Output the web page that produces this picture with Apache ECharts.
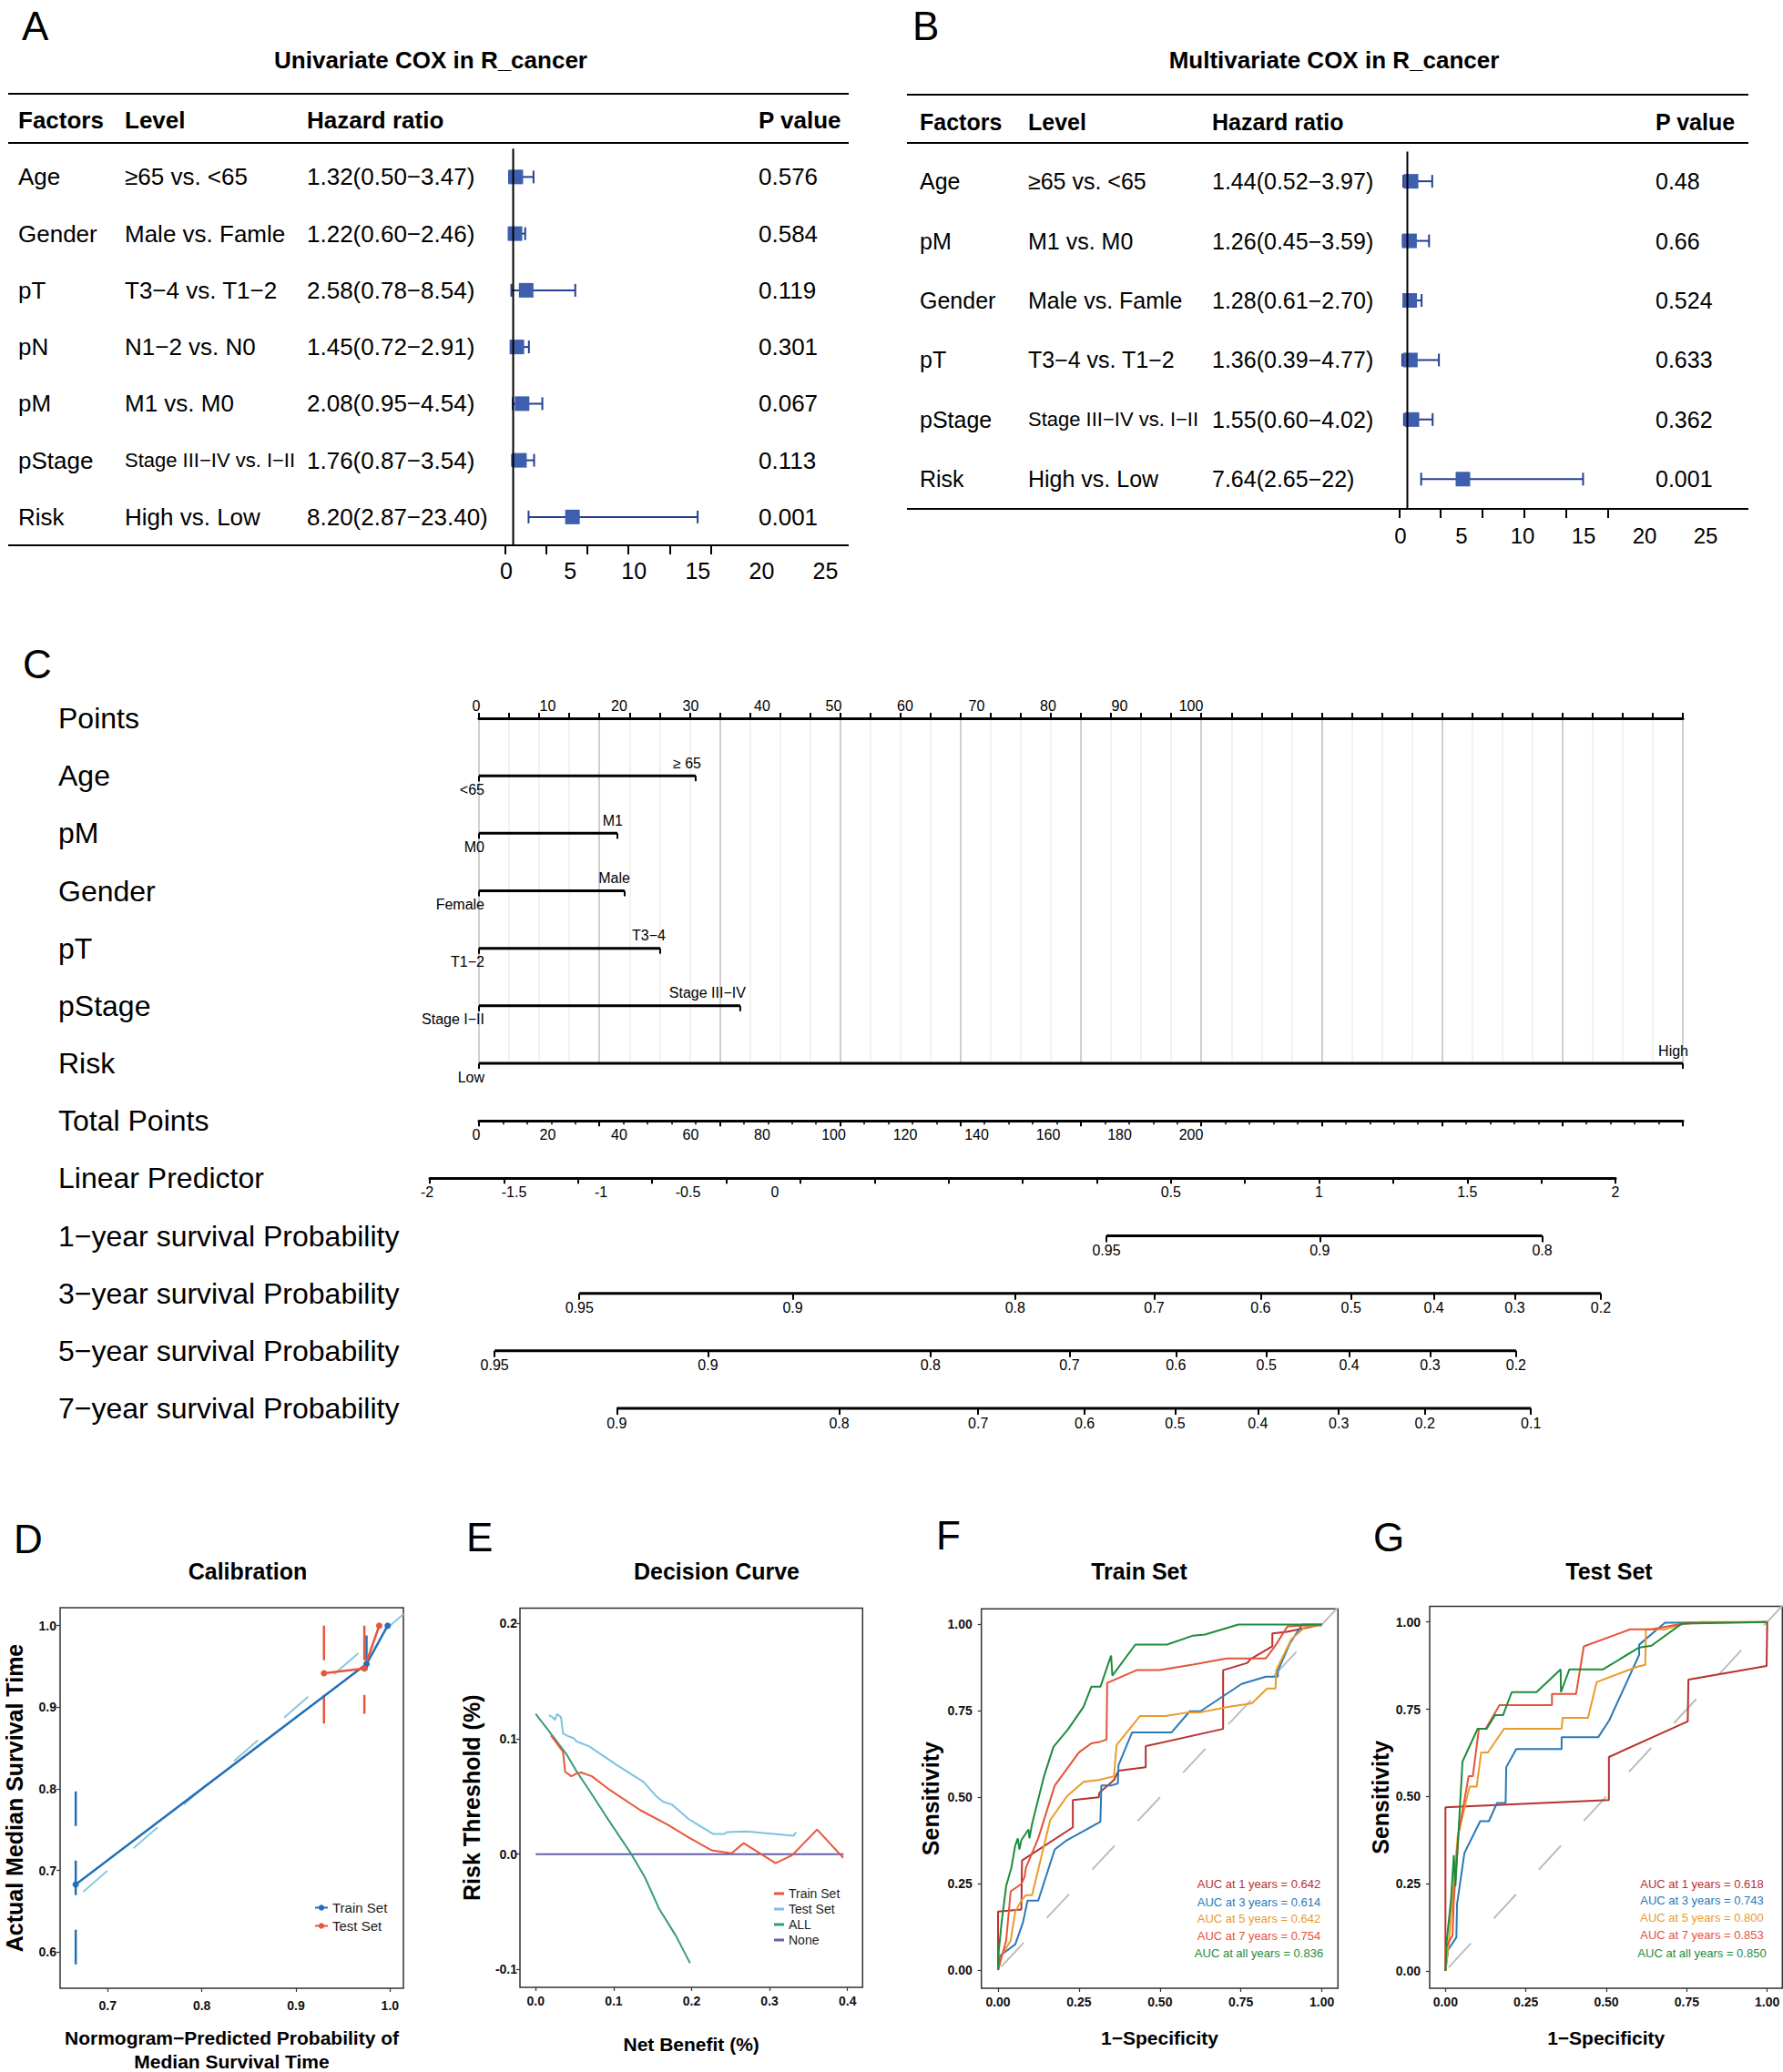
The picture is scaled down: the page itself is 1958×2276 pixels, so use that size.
<!DOCTYPE html>
<html><head><meta charset="utf-8">
<script src="https://cdn.jsdelivr.net/npm/echarts@6/dist/echarts.min.js"></script>
<style>html,body{margin:0;padding:0;background:#fff}#c{width:1958px;height:2276px}</style>
</head><body><div id="c"></div>
<script>
// ================= DATA =================
// Panel A: univariate Cox
const uniFactors = ['Age','Gender','pT','pN','pM','pStage','Risk'];
const uniLevels = ['≥65 vs. <65','Male vs. Famle','T3−4 vs. T1−2','N1−2 vs. N0','M1 vs. M0','Stage III−IV vs. I−II','High vs. Low'];
const uniHR = [1.32,1.22,2.58,1.45,2.08,1.76,8.20];
const uniLow = [0.50,0.60,0.78,0.72,0.95,0.87,2.87];
const uniHigh = [3.47,2.46,8.54,2.91,4.54,3.54,23.40];
const uniHRText = ['1.32(0.50−3.47)','1.22(0.60−2.46)','2.58(0.78−8.54)','1.45(0.72−2.91)','2.08(0.95−4.54)','1.76(0.87−3.54)','8.20(2.87−23.40)'];
const uniP = ['0.576','0.584','0.119','0.301','0.067','0.113','0.001'];
// Panel B: multivariate Cox
const mulFactors = ['Age','pM','Gender','pT','pStage','Risk'];
const mulLevels = ['≥65 vs. <65','M1 vs. M0','Male vs. Famle','T3−4 vs. T1−2','Stage III−IV vs. I−II','High vs. Low'];
const mulHR = [1.44,1.26,1.28,1.36,1.55,7.64];
const mulLow = [0.52,0.45,0.61,0.39,0.60,2.65];
const mulHigh = [3.97,3.59,2.70,4.77,4.02,22];
const mulHRText = ['1.44(0.52−3.97)','1.26(0.45−3.59)','1.28(0.61−2.70)','1.36(0.39−4.77)','1.55(0.60−4.02)','7.64(2.65−22)'];
const mulP = ['0.48','0.66','0.524','0.633','0.362','0.001'];
const forestHeaders = ['Factors','Level','Hazard ratio','P value'];
// Panel C: nomogram
const nomoRowNames = ['Points','Age','pM','Gender','pT','pStage','Risk','Total Points','Linear Predictor',
  '1−year survival Probability','3−year survival Probability','5−year survival Probability','7−year survival Probability'];
const nomoVars = ['Age','pM','Gender','pT','pStage','Risk'];
const nomoLowLabels = ['<65','M0','Female','T1−2','Stage I−II','Low'];
const nomoHighLabels = ['≥ 65','M1','Male','T3−4','Stage III−IV','High'];
const nomoPoints = [18.0,11.5,12.1,15.05,21.7,100];
const survYears = ['1','3','5','7'];
const survBaseline = [0.96207,0.79546,0.73745,0.66076];
const survTicks = [
  [0.95,0.9,0.8],
  [0.95,0.9,0.8,0.7,0.6,0.5,0.4,0.3,0.2],
  [0.95,0.9,0.8,0.7,0.6,0.5,0.4,0.3,0.2],
  [0.9,0.8,0.7,0.6,0.5,0.4,0.3,0.2,0.1]];
// Panel D: calibration
const calTrain = [[0.666,0.683],[0.975,0.953],[0.9975,1.0]];
const calTest = [[0.9298,0.9416],[0.9727,0.9476],[0.9885,1.0]];
const calTrainErr = [[[0.666,0.797],[0.666,0.575]],[[0.975,0.988],[0.975,0.916]]];
const calTestErr = [[[0.9298,1.0],[0.9298,0.880]],[[0.9727,1.0],[0.9727,0.892]]];
const calIdeal = [[0.674,0.674],[1.0142,1.0142]];
// Panel E: decision curve
const dcaTrain = [[0.0195,0.103],[0.035,0.0887],[0.0378,0.0713],[0.0456,0.0675],[0.0519,0.0697],[0.0584,0.0707],[0.072,0.0675],[0.0954,0.0554],[0.1344,0.038],[0.1694,0.0254],[0.1967,0.0143],[0.2259,0.0032],[0.2512,0.0007],[0.2668,0.0095],[0.3077,-0.0079],[0.329,-0.001],[0.361,0.0213],[0.3945,-0.0032]];
const dcaTest = [[0.0168,0.1203],[0.0215,0.1188],[0.0246,0.1163],[0.0273,0.1214],[0.0324,0.1188],[0.0351,0.1046],[0.0409,0.1024],[0.0487,0.1005],[0.0526,0.0976],[0.0682,0.0935],[0.1033,0.0776],[0.1383,0.0625],[0.1539,0.0507],[0.1636,0.0453],[0.1752,0.0428],[0.1967,0.0301],[0.2278,0.0174],[0.2426,0.0174],[0.2453,0.019],[0.2707,0.0196],[0.331,0.0159],[0.3338,0.019]];
const dcaAll = [[0,0.1215],[0.02,0.104],[0.04,0.086],[0.0526,0.0715],[0.07,0.054],[0.09,0.033],[0.1227,0],[0.14,-0.02],[0.158,-0.047],[0.18,-0.071],[0.198,-0.0945]];
const dcaNone = [[0,0],[0.395,0]];
// Panel F: ROC train
const rocTrain1 = [[0,0],[0,0.169],[0.072,0.175],[0.074,0.317],[0.231,0.413],[0.231,0.492],[0.311,0.5],[0.313,0.513],[0.358,0.55],[0.372,0.577],[0.456,0.587],[0.456,0.648],[0.695,0.698],[0.695,0.868],[0.77,0.889],[0.78,0.9],[0.847,0.937],[0.847,0.974],[0.892,0.979],[1,1]];
const rocTrain3 = [[0,0],[0.007,0.042],[0.053,0.074],[0.077,0.138],[0.091,0.201],[0.124,0.201],[0.175,0.349],[0.213,0.376],[0.316,0.429],[0.319,0.534],[0.349,0.534],[0.37,0.54],[0.372,0.593],[0.414,0.688],[0.536,0.688],[0.592,0.749],[0.625,0.749],[0.752,0.828],[0.827,0.849],[0.864,0.849],[0.864,0.866],[0.902,0.947],[0.939,1.0],[1,1]];
const rocTrain5 = [[0,0],[0.011,0.042],[0.039,0.085],[0.053,0.169],[0.072,0.201],[0.086,0.217],[0.105,0.217],[0.161,0.434],[0.213,0.503],[0.264,0.545],[0.311,0.55],[0.358,0.561],[0.366,0.651],[0.438,0.735],[0.517,0.735],[0.588,0.746],[0.625,0.746],[0.714,0.762],[0.784,0.772],[0.831,0.815],[0.857,0.815],[0.859,0.868],[0.906,0.958],[0.948,0.993],[1,1]];
const rocTrain7 = [[0,0],[0.025,0.085],[0.039,0.228],[0.072,0.249],[0.082,0.27],[0.086,0.296],[0.124,0.381],[0.175,0.534],[0.25,0.63],[0.288,0.656],[0.316,0.661],[0.335,0.667],[0.337,0.831],[0.428,0.868],[0.499,0.868],[0.602,0.884],[0.705,0.902],[0.827,0.902],[0.855,0.937],[0.894,0.995],[1,1]];
const rocTrainAll = [[0,0],[0.002,0.053],[0.011,0.138],[0.025,0.243],[0.041,0.296],[0.053,0.36],[0.061,0.381],[0.066,0.349],[0.072,0.376],[0.094,0.407],[0.097,0.381],[0.105,0.423],[0.142,0.561],[0.171,0.646],[0.217,0.698],[0.264,0.762],[0.288,0.82],[0.316,0.82],[0.349,0.91],[0.353,0.852],[0.424,0.942],[0.522,0.942],[0.602,0.968],[0.639,0.971],[0.742,1.0],[1,1]];
const aucTrain = ['0.642','0.614','0.642','0.754','0.836'];
// Panel G: ROC test
const rocTest1 = [[0,0],[0,0.469],[0.508,0.49],[0.508,0.613],[0.753,0.715],[0.755,0.835],[0.998,0.874],[1,0.998],[1,1]];
const rocTest3 = [[0,0],[0.008,0.06],[0.034,0.096],[0.036,0.191],[0.059,0.338],[0.108,0.429],[0.135,0.429],[0.16,0.481],[0.187,0.481],[0.189,0.584],[0.22,0.636],[0.361,0.636],[0.361,0.67],[0.475,0.67],[0.509,0.718],[0.602,0.906],[0.602,0.935],[0.682,0.998],[1,1]];
const rocTest5 = [[0,0],[0.008,0.055],[0.038,0.385],[0.075,0.528],[0.097,0.528],[0.111,0.626],[0.132,0.626],[0.182,0.694],[0.361,0.694],[0.364,0.725],[0.443,0.725],[0.47,0.828],[0.597,0.872],[0.621,0.877],[0.623,0.979],[0.682,0.979],[0.734,0.993],[0.791,1],[1,1]];
const rocTest7 = [[0,0],[0.001,0.065],[0.022,0.102],[0.026,0.201],[0.041,0.395],[0.072,0.558],[0.085,0.558],[0.104,0.694],[0.125,0.694],[0.168,0.762],[0.331,0.762],[0.331,0.794],[0.406,0.794],[0.43,0.93],[0.574,0.979],[0.64,0.979],[0.753,0.998],[1,1]];
const rocTestAll = [[0,0],[0.004,0.086],[0.017,0.201],[0.026,0.332],[0.031,0.243],[0.053,0.6],[0.1,0.694],[0.128,0.694],[0.154,0.733],[0.179,0.733],[0.206,0.799],[0.283,0.799],[0.358,0.864],[0.359,0.799],[0.385,0.864],[0.489,0.864],[0.602,0.927],[0.64,0.932],[0.734,0.995],[1,1]];
const aucTest = ['0.618','0.743','0.800','0.853','0.850'];
const aucPeriods = ['1 years','3 years','5 years','7 years','all years'];
const rocDiag = [[0.01,0.01],[1.05,1.05]];

// ================= BUILD =================
const FONT = "'Liberation Sans', Arial, Helvetica, sans-serif";
const grids=[], xAxes=[], yAxes=[], series=[], graphics=[], legends=[];
function G(g){ grids.push(Object.assign({show:false, containLabel:false, outerBoundsMode:'none'}, g)); return grids.length-1; }
function fixAxis(a, base){
  const o = Object.assign({type:'value', splitLine:{show:false}}, a);
  o.axisLine = Object.assign({onZero:false}, a.axisLine||{});
  return o;
}
function X(a){ xAxes.push(fixAxis(a)); return xAxes.length-1; }
function Y(a){ yAxes.push(fixAxis(a)); return yAxes.length-1; }
function txt(x,y,text,size,opts){
  opts = opts||{};
  graphics.push({type:'text', x:x, y:y, z:100, style:{text:text, fontSize:size, fontFamily:FONT,
    fontWeight:opts.bold?'bold':'normal', fill:opts.color||'#000', align:opts.align||'left', verticalAlign:'middle'}});
}
function hline(x1,x2,y,w){ graphics.push({type:'line', z:100, shape:{x1:x1,y1:y,x2:x2,y2:y}, style:{stroke:'#000', lineWidth:w||2}}); }

// ---------- Forest panels ----------
function forestPanel(d, L){
  const n = d.factors.length;
  const gi = G({left:L.x0, top:L.top, width:L.x25-L.x0, height:L.bottom-L.top});
  const xi = X({gridIndex:gi, min:0, max:25, interval:5, position:'bottom', axisLine:{show:false},
    axisTick:{show:true, length:L.tickLen, lineStyle:{color:'#000', width:2}}, axisLabel:{show:false}});
  const yi = Y({gridIndex:gi, min:-1.5, max:n-0.5, inverse:true, show:false});
  const cols = [
    {data:[forestHeaders[0]].concat(d.factors), x:L.cF, pos:'left'},
    {data:[forestHeaders[1]].concat(d.levels), x:L.cL, pos:'left', fit:L.cH-L.cL-6},
    {data:[forestHeaders[2]].concat(d.hrText), x:L.cH, pos:'left'},
    {data:[forestHeaders[3]].concat(d.p), x:L.cP, pos:'right'}];
  cols.forEach(c=>{
    Y({gridIndex:gi, type:'category', inverse:true, position:c.pos, data:c.data,
      axisLine:{show:false}, axisTick:{show:false},
      axisLabel:{interval:0, align:'left', margin:(c.pos==='left' ? L.x0-c.x : c.x-L.x25),
        fontFamily:FONT, fontSize:L.fs, color:'#000',
        formatter:(v,i)=> i===0 ? '{h|'+v+'}' : (c.fit && v.length>16 ? '{s|'+v+'}' : v),
        rich:{h:{fontFamily:FONT, fontSize:L.fs, fontWeight:'bold', color:'#000'},
              s:{fontFamily:FONT, fontSize:L.sfs, color:'#000'}}}});
  });
  series.push({type:'line', xAxisIndex:xi, yAxisIndex:yi, data:[[1,-0.5],[1,n-0.5]], symbol:'none',
    lineStyle:{color:'#000', width:2}, silent:true});
  series.push({type:'custom', xAxisIndex:xi, yAxisIndex:yi, clip:false,
    data:d.hr.map((h,i)=>[h, d.lo[i], d.hi[i], i]),
    encode:{x:[0,1,2], y:3},
    renderItem:(params, api)=>{
      const r = api.value(3);
      const a = api.coord([api.value(1), r]), b = api.coord([api.value(2), r]), m = api.coord([api.value(0), r]);
      const col = '#24408E', cap = 7, bx = 8;
      return {type:'group', children:[
        {type:'line', shape:{x1:a[0],y1:a[1],x2:b[0],y2:b[1]}, style:{stroke:col, lineWidth:2}},
        {type:'line', shape:{x1:a[0],y1:a[1]-cap,x2:a[0],y2:a[1]+cap}, style:{stroke:col, lineWidth:2}},
        {type:'line', shape:{x1:b[0],y1:b[1]-cap,x2:b[0],y2:b[1]+cap}, style:{stroke:col, lineWidth:2}},
        {type:'rect', shape:{x:m[0]-bx, y:m[1]-bx, width:2*bx, height:2*bx}, style:{fill:'#3E5EAE'}}
      ]};
    }});
  const gl = G({left:L.l0, width:L.l25-L.l0, top:L.bottom-10, height:10});
  X({gridIndex:gl, min:0, max:25, interval:5, position:'bottom', axisLine:{show:false}, axisTick:{show:false},
    axisLabel:{margin:L.lm, fontFamily:FONT, fontSize:L.tfs, color:'#000'}});
  Y({gridIndex:gl, show:false, min:0, max:1});
  L.rules.forEach(y=>hline(L.rx0, L.rx1, y, 2.2));
}
forestPanel({factors:uniFactors, levels:uniLevels, hrText:uniHRText, p:uniP, hr:uniHR, lo:uniLow, hi:uniHigh},
  {x0:554.5, x25:780.6, top:101, bottom:599, tickLen:10, cF:20, cL:137, cH:337, cP:833, fs:26, sfs:22, tfs:25,
   l0:556, l25:906.5, lm:15, rules:[103,157,599], rx0:9, rx1:932});
forestPanel({factors:mulFactors, levels:mulLevels, hrText:mulHRText, p:mulP, hr:mulHR, lo:mulLow, hi:mulHigh},
  {x0:1536.3, x25:1766, top:101, bottom:559, tickLen:10, cF:1010, cL:1129, cH:1331, cP:1818, fs:25, sfs:22, tfs:24,
   l0:1538, l25:1873, lm:17, rules:[104,157,559], rx0:996, rx1:1920});
txt(473,66,'Univariate COX in R_cancer',26,{bold:true,align:'center'});
txt(1465,66,'Multivariate COX in R_cancer',26,{bold:true,align:'center'});

// ---------- Nomogram ----------
const NX0 = 526, NW = 1322, ROW0 = 789, ROWH = 63.17;
const gN = G({left:NX0, width:NW, top:ROW0, height:ROWH*6});
const xN = X({gridIndex:gN, min:0, max:100, interval:10, position:'top',
  axisLine:{show:true, lineStyle:{color:'#000', width:3}},
  axisTick:{show:true, length:6, lineStyle:{color:'#000', width:2}},
  minorTick:{show:true, splitNumber:4, length:6, lineStyle:{color:'#000', width:2}},
  axisLabel:{show:false},
  splitLine:{show:true, lineStyle:{color:'#cfcfcf', width:2}},
  minorSplitLine:{show:true, lineStyle:{color:'#eeeeee', width:1.5}}});
const yN = Y({gridIndex:gN, min:0, max:6, inverse:true, show:false});
series.push({type:'custom', xAxisIndex:xN, yAxisIndex:yN, clip:false,
  data:nomoPoints.map((p,i)=>[p, i+1]), encode:{x:0, y:1},
  renderItem:(params, api)=>{
    const i = params.dataIndex, r = api.value(1);
    const a = api.coord([0,r]), b = api.coord([api.value(0), r]);
    const f = {fontSize:16, fontFamily:FONT, fill:'#000', align:'right', verticalAlign:'middle'};
    return {type:'group', children:[
      {type:'line', shape:{x1:a[0],y1:a[1],x2:b[0],y2:b[1]}, style:{stroke:'#000', lineWidth:3}},
      {type:'line', shape:{x1:a[0],y1:a[1],x2:a[0],y2:a[1]+6}, style:{stroke:'#000', lineWidth:2}},
      {type:'line', shape:{x1:b[0],y1:b[1],x2:b[0],y2:b[1]+6}, style:{stroke:'#000', lineWidth:2}},
      {type:'text', x:a[0]+6, y:a[1]+15, style:Object.assign({text:nomoLowLabels[i]}, f)},
      {type:'text', x:b[0]+6, y:b[1]-14, style:Object.assign({text:nomoHighLabels[i]}, f)}
    ]};
  }});
// points labels (placed on their own scale as in the figure)
let g = G({left:523, width:785, top:ROW0, height:10});
X({gridIndex:g, min:0, max:100, interval:10, position:'top', axisLine:{show:false}, axisTick:{show:false},
  axisLabel:{margin:6, fontFamily:FONT, fontSize:16, color:'#000'}});
Y({gridIndex:g, show:false, min:0, max:1});
// row names
g = G({left:NX0, width:NW, top:ROW0, height:ROWH*12});
X({gridIndex:g, show:false, min:0, max:1});
Y({gridIndex:g, type:'category', inverse:true, boundaryGap:false, data:nomoRowNames,
  axisLine:{show:false}, axisTick:{show:false},
  axisLabel:{interval:0, align:'left', margin:NX0-64, fontFamily:FONT, fontSize:32, color:'#000'}});
// total points
const rowY = k => ROW0 + ROWH*k;
g = G({left:NX0, width:NW, top:rowY(7)-10, height:10});
X({gridIndex:g, min:0, max:100, interval:10, position:'bottom', axisLine:{show:true, lineStyle:{color:'#000', width:3}},
  axisTick:{show:true, length:6, lineStyle:{color:'#000', width:2}},
  minorTick:{show:true, splitNumber:5, length:4, lineStyle:{color:'#000', width:1.5}}, axisLabel:{show:false}});
Y({gridIndex:g, show:false, min:0, max:1});
g = G({left:523, width:785, top:rowY(7)-10, height:10});
X({gridIndex:g, min:0, max:200, interval:20, position:'bottom', axisLine:{show:false}, axisTick:{show:false},
  axisLabel:{margin:7, fontFamily:FONT, fontSize:16, color:'#000'}});
Y({gridIndex:g, show:false, min:0, max:1});
// linear predictor
const LX0 = 472, LW = 1302;
g = G({left:LX0, width:LW, top:rowY(8)-10, height:10});
X({gridIndex:g, min:-2, max:2, interval:0.5, position:'bottom', axisLine:{show:true, lineStyle:{color:'#000', width:3}},
  axisTick:{show:true, length:6, lineStyle:{color:'#000', width:2}},
  minorTick:{show:true, splitNumber:2, length:6, lineStyle:{color:'#000', width:2}},
  axisLabel:{margin:7, fontFamily:FONT, fontSize:16, color:'#000', formatter:v=> v>=0.5 ? String(v) : ''}});
Y({gridIndex:g, show:false, min:0, max:1});
g = G({left:469, width:382, top:rowY(8)-10, height:10});
X({gridIndex:g, min:-2, max:0, interval:0.5, position:'bottom', axisLine:{show:false}, axisTick:{show:false},
  axisLabel:{margin:7, fontFamily:FONT, fontSize:16, color:'#000'}});
Y({gridIndex:g, show:false, min:0, max:1});
// survival probability scales (positions on the linear predictor scale)
function lpOf(p, k){ return Math.log(Math.log(p)/Math.log(survBaseline[k])); }
survYears.forEach((yr,k)=>{
  const lps = survTicks[k].map(p=>lpOf(p,k));
  const gi = G({left:LX0, width:LW, top:rowY(9+k)-10, height:10});
  const xi = X({gridIndex:gi, min:-2, max:2, position:'bottom', axisLine:{show:false},
    axisTick:{show:true, customValues:lps, length:7, lineStyle:{color:'#000', width:2}},
    axisLabel:{customValues:lps, margin:8, fontFamily:FONT, fontSize:16, color:'#000',
      formatter:v=>{ let best=0; lps.forEach((l,j)=>{ if(Math.abs(l-v)<Math.abs(lps[best]-v)) best=j; }); return String(survTicks[k][best]); }}});
  const yi = Y({gridIndex:gi, show:false, min:0, max:1});
  series.push({type:'line', xAxisIndex:xi, yAxisIndex:yi, clip:false, symbol:'none', silent:true,
    data:[[lps[0],0],[lps[lps.length-1],0]], lineStyle:{color:'#000', width:3}});
});

// ---------- Panels D-G ----------
function plotPanel(P){
  const gi = G({left:P.left, top:P.top, width:P.width, height:P.height, show:true,
    borderColor:'#333', borderWidth:1.5, backgroundColor:'#fff'});
  const xi = X({gridIndex:gi, min:P.xmin, max:P.xmax, position:'bottom', axisLine:{show:false},
    axisTick:{show:true, customValues:P.xticks, length:4, lineStyle:{color:'#333', width:1.2}},
    axisLabel:{customValues:P.xticks, formatter:v=>v.toFixed(P.xdec), margin:P.xm,
      fontFamily:FONT, fontSize:14, fontWeight:'bold', color:'#111'},
    name:P.xname, nameLocation:'middle', nameGap:P.xgap,
    nameTextStyle:{fontFamily:FONT, fontSize:P.xns, fontWeight:'bold', color:'#000', lineHeight:26}});
  const yi = Y({gridIndex:gi, min:P.ymin, max:P.ymax, position:'left', axisLine:{show:false},
    axisTick:{show:true, customValues:P.yticks, length:4, lineStyle:{color:'#333', width:1.2}},
    axisLabel:{customValues:P.yticks, formatter:v=>v.toFixed(P.ydec), margin:P.ym,
      fontFamily:FONT, fontSize:14, fontWeight:'bold', color:'#111'},
    name:P.yname, nameLocation:'middle', nameGap:P.ygap,
    nameTextStyle:{fontFamily:FONT, fontSize:P.yns, fontWeight:'bold', color:'#000'}});
  return {xi, yi};
}
function lineS(ax, name, data, color, width, extra){
  series.push(Object.assign({type:'line', name:name, xAxisIndex:ax.xi, yAxisIndex:ax.yi, data:data,
    symbol:'none', lineStyle:{color:color, width:width}, itemStyle:{color:color}, silent:true}, extra||{}));
}
// D
const axD = plotPanel({left:66, top:1766, width:377, height:418, xmin:0.6494, xmax:1.0142, xticks:[0.7,0.8,0.9,1.0], xdec:1,
  ymin:0.5558, ymax:1.022, yticks:[0.6,0.7,0.8,0.9,1.0], ydec:1,
  xname:'Normogram−Predicted Probability of\nMedian Survival Time', xgap:41, xns:21, xm:12,
  yname:'Actual Median Survival Time', ygap:38, yns:25, ym:4});
lineS(axD, 'D:ideal', calIdeal, '#8CC8DC', 2, {lineStyle:{color:'#8CC8DC', width:2, type:[35,38]}});
calTrainErr.forEach((e,i)=>lineS(axD, 'D:trainErr'+i, e, '#2370B8', 2.5, {lineStyle:{color:'#2370B8', width:2.5, type:[38,38]}}));
calTestErr.forEach((e,i)=>lineS(axD, 'D:testErr'+i, e, '#E8563A', 2.5, {lineStyle:{color:'#E8563A', width:2.5, type:[38,38]}}));
lineS(axD, 'D:Train Set', calTrain, '#2370B8', 2.5, {symbol:'circle', symbolSize:7});
lineS(axD, 'D:Test Set', calTest, '#E8563A', 2.5, {symbol:'circle', symbolSize:7});
legends.push({orient:'vertical', left:340, top:2083, itemWidth:14, itemHeight:8, itemGap:5, selectedMode:false,
  data:['D:Train Set','D:Test Set'], formatter:n=>n.split(':')[1],
  textStyle:{fontFamily:FONT, fontSize:15, color:'#222'}});
// E
const axE = plotPanel({left:571, top:1766.5, width:376.3, height:416.5, xmin:-0.0202, xmax:0.4194, xticks:[0,0.1,0.2,0.3,0.4], xdec:1,
  ymin:-0.1155, ymax:0.2132, yticks:[-0.1,0,0.1,0.2], ydec:1,
  xname:'Net Benefit (%)', xgap:49, xns:21, xm:8, yname:'Risk Threshold (%)', ygap:41, yns:25, ym:3});
lineS(axE, 'E:None', dcaNone, '#6661A9', 2);
lineS(axE, 'E:ALL', dcaAll, '#3A9A7A', 2);
lineS(axE, 'E:Test Set', dcaTest, '#7CC3DE', 2);
lineS(axE, 'E:Train Set', dcaTrain, '#E8573A', 2);
legends.push({orient:'vertical', left:845, top:2068, itemWidth:11, itemHeight:3, itemGap:3, icon:'rect', selectedMode:false,
  data:['E:Train Set','E:Test Set','E:ALL','E:None'], formatter:n=>n.split(':')[1],
  textStyle:{fontFamily:FONT, fontSize:14, color:'#222'}});
// F & G
const rocColors = ['#B8312F','#2A79B7','#E99B2B','#E5533B','#1E8C3A'];
function rocPanel(P, curves, aucs, cx, ys){
  const ax = plotPanel(Object.assign({xticks:[0,0.25,0.5,0.75,1], xdec:2, yticks:[0,0.25,0.5,0.75,1], ydec:2,
    xname:'1−Specificity', xgap:41, xns:21, xm:8, yname:'Sensitivity', yns:25, ym:10}, P));
  lineS(ax, P.tag+':diag', rocDiag, '#BDBDBD', 2, {lineStyle:{color:'#BDBDBD', width:2, type:[36,37]}});
  curves.forEach((c,i)=>lineS(ax, P.tag+':'+aucPeriods[i], c, rocColors[i], 2));
  aucs.forEach((a,i)=>txt(cx, ys[i], 'AUC at '+aucPeriods[i]+' = '+a, 13, {color:rocColors[i], align:'center'}));
}
rocPanel({tag:'F', left:1077.7, top:1767.3, width:391.6, height:416.7, xmin:-0.0515, xmax:1.0497, ymin:-0.0527, ymax:1.0453, ygap:43},
  [rocTrain1, rocTrain3, rocTrain5, rocTrain7, rocTrainAll], aucTrain, 1382.5, [2069.7,2089,2107.8,2126.7,2145]);
rocPanel({tag:'G', left:1570, top:1764.5, width:387.3, height:419.5, xmin:-0.049, xmax:1.047, ymin:-0.0498, ymax:1.0449, ygap:41},
  [rocTest1, rocTest3, rocTest5, rocTest7, rocTestAll], aucTest, 1869, [2069,2087.7,2106.6,2125.9,2145.2]);
txt(272,1726,'Calibration',25,{bold:true,align:'center'});
txt(787,1726,'Decision Curve',25,{bold:true,align:'center'});
txt(1251,1726,'Train Set',25,{bold:true,align:'center'});
txt(1767,1726,'Test Set',25,{bold:true,align:'center'});

// panel letters
[['A',24,28],['B',1002,28],['C',25,729],['D',15,1690],['E',512,1688],['F',1028,1686],['G',1508,1688]]
  .forEach(l=>txt(l[1], l[2], l[0], 44));

const chart = echarts.init(document.getElementById('c'), null, {renderer:'svg'});
chart.setOption({animation:false, backgroundColor:'#fff', textStyle:{fontFamily:FONT},
  grid:grids, xAxis:xAxes, yAxis:yAxes, series:series, legend:legends, graphic:graphics});
</script></body></html>
